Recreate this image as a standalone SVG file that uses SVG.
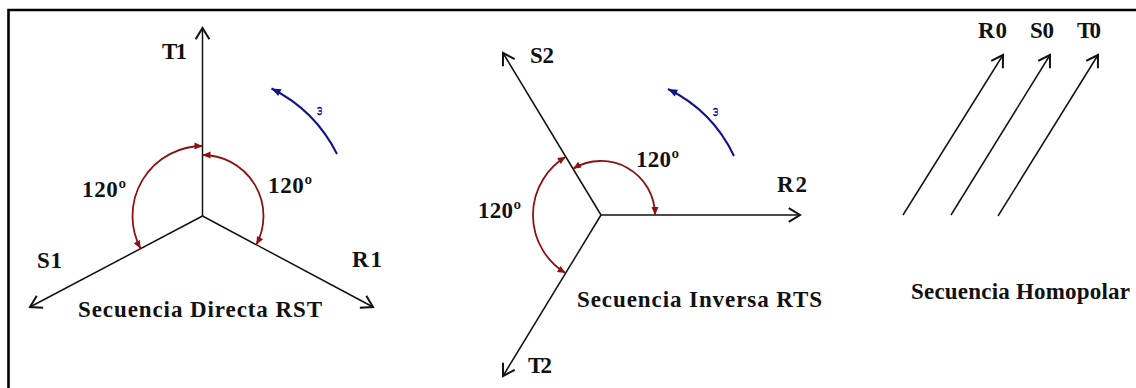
<svg xmlns="http://www.w3.org/2000/svg" width="1136" height="388" viewBox="0 0 1136 388">
<style>
  .vec { stroke: #111; stroke-width: 1.5; fill: none; }
  .ang { stroke: #8b1212; stroke-width: 1.8; fill: none; }
  .rot { stroke: #12128a; stroke-width: 2; fill: none; }
  .lbl { font-family: "Liberation Serif", "Times New Roman", serif; font-weight: bold; font-size: 23px; fill: #111; }
  .om { font-family: "DejaVu Serif", "Liberation Serif", serif; font-weight: bold; font-size: 10px; fill: #12128a; }
</style>
<defs>
  <marker id="open" markerUnits="userSpaceOnUse" markerWidth="20" markerHeight="20" refX="0" refY="0" viewBox="-12 -8 14 16" orient="auto">
    <path d="M-9,-5.5 L0,0 L-9,5.5" fill="none" stroke="#111" stroke-width="1.6"/>
  </marker>
  <marker id="red" markerUnits="userSpaceOnUse" markerWidth="12" markerHeight="12" refX="0" refY="0" viewBox="-8 -4 9 8" orient="auto-start-reverse">
    <path d="M-6,-2.6 L0,0 L-6,2.6 z" fill="#8b1212"/>
  </marker>
  <marker id="blue" markerUnits="userSpaceOnUse" markerWidth="12" markerHeight="12" refX="0" refY="0" viewBox="-8 -4 9 8" orient="auto">
    <path d="M-7,-2.8 L0,0 L-7,2.8 z" fill="#12128a"/>
  </marker>
</defs>
<rect width="1136" height="388" fill="#fff"/>
<path id="frame" d="M8.5,388 V10 H1136" fill="none" stroke="#000" stroke-width="2.6"/>

<g id="connectors">
  <line class="vec" x1="202.5" y1="216" x2="202.5" y2="28" marker-end="url(#open)"/>
  <line class="vec" x1="202.5" y1="216" x2="30" y2="307" marker-end="url(#open)"/>
  <line class="vec" x1="202.5" y1="216" x2="373" y2="307" marker-end="url(#open)"/>
  <path class="ang" d="M202.5,146 A70,70 0 0 0 140.6,248.7" marker-start="url(#red)" marker-end="url(#red)"/>
  <path class="ang" d="M202.5,155 A61,61 0 0 1 256.3,244.7" marker-start="url(#red)" marker-end="url(#red)"/>
  <path class="rot" d="M337,154 A147,147 0 0 0 271.5,88.5" marker-end="url(#blue)"/>
  <line class="vec" x1="601" y1="215" x2="800" y2="215" marker-end="url(#open)"/>
  <line class="vec" x1="601" y1="215" x2="503" y2="53" marker-end="url(#open)"/>
  <line class="vec" x1="601" y1="215" x2="503" y2="376" marker-end="url(#open)"/>
  <path class="ang" d="M573,168.8 A54,54 0 0 1 655,215" marker-start="url(#red)" marker-end="url(#red)"/>
  <path class="ang" d="M565.8,156.8 A68,68 0 0 0 565.6,273.1" marker-start="url(#red)" marker-end="url(#red)"/>
  <path class="rot" d="M734,156 A143,143 0 0 0 668,89" marker-end="url(#blue)"/>
  <line class="vec" x1="903" y1="215" x2="1003" y2="55" marker-end="url(#open)"/>
  <line class="vec" x1="951" y1="215" x2="1050" y2="55" marker-end="url(#open)"/>
  <line class="vec" x1="998" y1="216" x2="1098" y2="55" marker-end="url(#open)"/>
</g>

<g id="directa">
  <text class="lbl" x="162" y="59" textLength="25">T1</text>
  <text class="lbl" x="37" y="268" textLength="25">S1</text>
  <text class="lbl" x="352" y="267" textLength="30">R1</text>
  <text class="lbl" x="82" y="197" textLength="44">120º</text>
  <text class="lbl" x="268" y="193" textLength="44">120º</text>
  <text class="om" x="0" y="0" transform="translate(322,111) rotate(-90)" text-anchor="middle">ω</text>
  <text class="lbl" x="78" y="317" textLength="244" lengthAdjust="spacing">Secuencia Directa RST</text>
</g>

<g id="inversa">
  <text class="lbl" x="530" y="63" textLength="24">S2</text>
  <text class="lbl" x="528" y="373" textLength="24">T2</text>
  <text class="lbl" x="777" y="192" textLength="30">R2</text>
  <text class="lbl" x="636" y="167" textLength="43">120º</text>
  <text class="lbl" x="478" y="218" textLength="43">120º</text>
  <text class="om" x="0" y="0" transform="translate(718,112) rotate(-90)" text-anchor="middle">ω</text>
  <text class="lbl" x="577" y="307" textLength="245" lengthAdjust="spacing">Secuencia Inversa RTS</text>
</g>

<g id="homopolar">
  <text class="lbl" x="978" y="38" textLength="29">R0</text>
  <text class="lbl" x="1030" y="38" textLength="24">S0</text>
  <text class="lbl" x="1077" y="38" textLength="24">T0</text>
  <text class="lbl" x="911" y="299" textLength="219" lengthAdjust="spacing">Secuencia Homopolar</text>
</g>
</svg>
